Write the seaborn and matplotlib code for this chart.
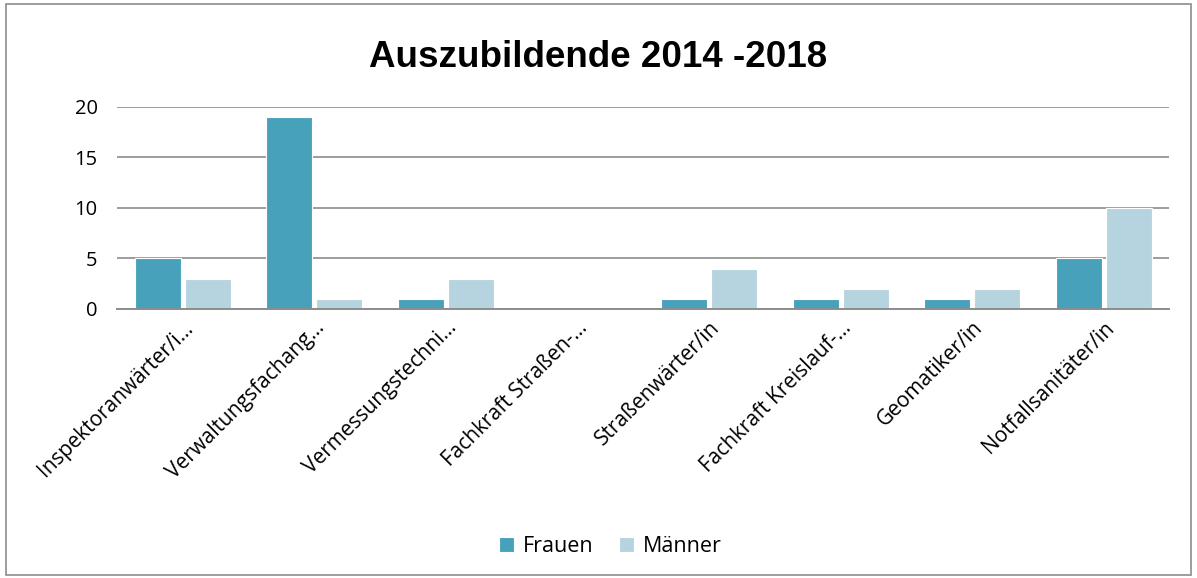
import pandas as pd
import matplotlib
matplotlib.use("Agg")
import matplotlib.pyplot as plt
import seaborn as sns
from matplotlib.patches import Rectangle

# Daten
berufe = ["Inspektoranwärter/i…", "Verwaltungsfachang…", "Vermessungstechni…",
          "Fachkraft Straßen-…", "Straßenwärter/in", "Fachkraft Kreislauf-…",
          "Geomatiker/in", "Notfallsanitäter/in"]
frauen = [5, 19, 1, 0, 1, 1, 1, 5]
maenner = [3, 1, 3, 0, 4, 2, 2, 10]

df = pd.DataFrame({
    "Beruf": berufe * 2,
    "Anzahl": frauen + maenner,
    "Geschlecht": ["Frauen"] * len(berufe) + ["Männer"] * len(berufe),
})

sns.set_style("white")
plt.rcParams["font.family"] = ["Open Sans", "DejaVu Sans"]
plt.rcParams["text.color"] = "black"
plt.rcParams["xtick.color"] = "black"
plt.rcParams["ytick.color"] = "black"

fig = plt.figure(figsize=(11.97, 5.78), dpi=100)
ax = fig.add_axes([0.0977, 0.4654, 0.8793, 0.3496])

sns.barplot(data=df, x="Beruf", y="Anzahl", hue="Geschlecht",
            palette={"Frauen": "#48A1BA", "Männer": "#B6D4DF"}, saturation=1,
            width=0.76, gap=0.08, edgecolor="white", linewidth=0.8, ax=ax)

ax.set_ylim(0, 20)
ax.set_yticks([0, 5, 10, 15, 20])
ax.yaxis.grid(True, color="#8C8C8C", linewidth=1.2)
ax.set_axisbelow(True)
for s in ["top", "right", "left"]:
    ax.spines[s].set_visible(False)
ax.spines["bottom"].set_color("#8C8C8C")
ax.spines["bottom"].set_linewidth(1.4)
ax.tick_params(axis="both", length=0, labelsize=14.5, colors="black")
ax.tick_params(axis="y", pad=14)
ax.tick_params(axis="x", pad=6)
ax.set_xlabel("")
ax.set_ylabel("")
plt.setp(ax.get_xticklabels(), rotation=45, ha="right", rotation_mode="anchor", fontsize=15)

fig.suptitle("Auszubildende 2014 -2018", y=0.93, fontsize=26.5, fontweight="bold",
             color="black", family=["Liberation Sans", "DejaVu Sans"])

ax.get_legend().remove()
handles, labels = ax.get_legend_handles_labels()
fig.legend(handles, labels, loc="center", bbox_to_anchor=(0.51, 0.055), ncol=2, frameon=False,
           fontsize=15.5, handlelength=0.7, handleheight=0.7, handletextpad=0.4,
           columnspacing=1.2)

fig.patches.append(Rectangle((0.005, 0.005), 0.99, 0.988, transform=fig.transFigure,
                             fill=False, edgecolor="#8C8C8C", linewidth=1.2))

fig.savefig("out.png", dpi=100, facecolor="white")
